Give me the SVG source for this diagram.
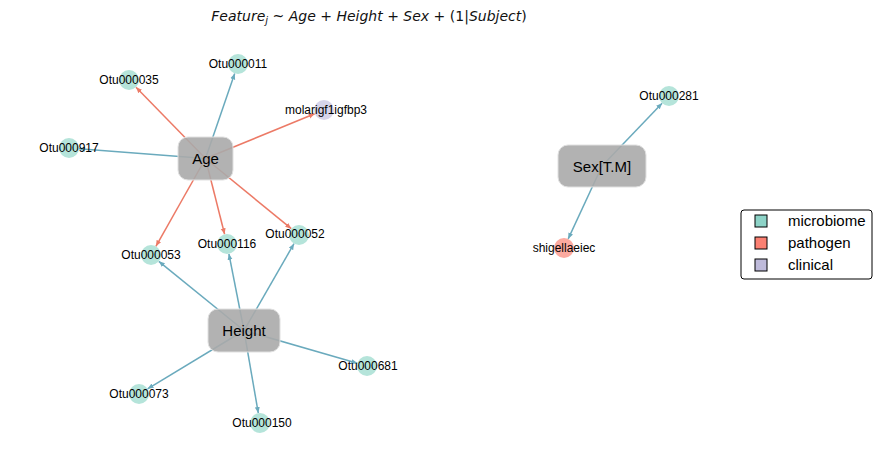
<svg xmlns="http://www.w3.org/2000/svg" width="879" height="469" viewBox="0 0 879 469">
<style>
.eb{stroke:#6aaabd;stroke-width:1.5;fill:none;marker-end:url(#ab)}
.er{stroke:#ec7a66;stroke-width:1.5;fill:none;marker-end:url(#ar)}
.box{fill:#aaaaaa;fill-opacity:0.9;stroke:#e0e0e0;stroke-width:1}
.bt{font-family:"Liberation Sans",Arial,sans-serif;font-size:15px;fill:#000;text-anchor:middle}
.nl{font-family:"Liberation Sans",Arial,sans-serif;font-size:12px;fill:#000;text-anchor:middle}
.mic{fill:#b5e4da}
.pat{fill:#fcaaa0}
.cli{fill:#d6d4e9}
.lt{font-family:"Liberation Sans",Arial,sans-serif;font-size:15px;fill:#000}
.title{font-family:"DejaVu Sans",sans-serif;font-size:14px;fill:#111}
</style>
<defs>
<marker id="ab" markerUnits="userSpaceOnUse" markerWidth="6" markerHeight="6" refX="6" refY="3" orient="auto"><path d="M0,0.5 L6,3 L0,5.5 z" fill="#6aaabd"/></marker>
<marker id="ar" markerUnits="userSpaceOnUse" markerWidth="6" markerHeight="6" refX="6" refY="3" orient="auto"><path d="M0,0.5 L6,3 L0,5.5 z" fill="#ec7a66"/></marker>
</defs>
<rect width="879" height="469" fill="#fff"/>
<text class="title" x="369" y="21" text-anchor="middle"><tspan font-style="italic">Feature</tspan><tspan font-style="italic" font-size="10" dy="3">j</tspan><tspan dy="-3"> ~ </tspan><tspan font-style="italic">Age</tspan> + <tspan font-style="italic">Height</tspan> + <tspan font-style="italic">Sex</tspan> + (1|<tspan font-style="italic">Subject</tspan>)</text>
<g id="connectors">
<line class="er" x1="205.5" y1="158.5" x2="136" y2="87.2"/>
<line class="eb" x1="205.5" y1="158.5" x2="234.7" y2="73.5"/>
<line class="er" x1="205.5" y1="158.5" x2="314.7" y2="113.8"/>
<line class="eb" x1="205.5" y1="158.5" x2="79" y2="148.8"/>
<line class="er" x1="205.5" y1="158.5" x2="155.9" y2="246.3"/>
<line class="er" x1="205.5" y1="158.5" x2="224.6" y2="234.3"/>
<line class="er" x1="205.5" y1="158.5" x2="291.3" y2="228.7"/>
<line class="eb" x1="244" y1="330.5" x2="158.8" y2="261.3"/>
<line class="eb" x1="244" y1="330.5" x2="228.9" y2="253.8"/>
<line class="eb" x1="244" y1="330.5" x2="294" y2="243.7"/>
<line class="eb" x1="244" y1="330.5" x2="357.4" y2="363.2"/>
<line class="eb" x1="244" y1="330.5" x2="147.6" y2="388.8"/>
<line class="eb" x1="244" y1="330.5" x2="258.3" y2="413.1"/>
<line class="eb" x1="602" y1="166" x2="662.1" y2="103.2"/>
<line class="eb" x1="602" y1="166" x2="568.2" y2="238.9"/>
</g>
<g id="Otu000035"><circle class="mic" cx="129" cy="80" r="10"/><text class="nl" x="129" y="84">Otu000035</text></g>
<g id="Otu000011"><circle class="mic" cx="238" cy="64" r="10"/><text class="nl" x="238" y="68">Otu000011</text></g>
<g id="molarigf1igfbp3"><circle class="cli" cx="324" cy="110" r="10"/><text class="nl" x="326" y="114">molarigf1igfbp3</text></g>
<g id="Otu000917"><circle class="mic" cx="69" cy="148" r="10"/><text class="nl" x="69" y="152">Otu000917</text></g>
<g id="Otu000053"><circle class="mic" cx="151" cy="255" r="10"/><text class="nl" x="151" y="259">Otu000053</text></g>
<g id="Otu000116"><circle class="mic" cx="227" cy="244" r="10"/><text class="nl" x="227" y="248">Otu000116</text></g>
<g id="Otu000052"><circle class="mic" cx="299" cy="235" r="10"/><text class="nl" x="295" y="238">Otu000052</text></g>
<g id="Otu000681"><circle class="mic" cx="367" cy="366" r="10"/><text class="nl" x="368" y="370">Otu000681</text></g>
<g id="Otu000073"><circle class="mic" cx="139" cy="394" r="10"/><text class="nl" x="139" y="398">Otu000073</text></g>
<g id="Otu000150"><circle class="mic" cx="260" cy="423" r="10"/><text class="nl" x="262" y="427">Otu000150</text></g>
<g id="Otu000281"><circle class="mic" cx="669" cy="96" r="10"/><text class="nl" x="669" y="100">Otu000281</text></g>
<g id="shigellaeiec"><circle class="pat" cx="564" cy="248" r="10"/><text class="nl" x="564" y="252">shigellaeiec</text></g>
<g id="Age"><rect class="box" x="178" y="137" width="55" height="43" rx="10"/><text class="bt" x="205.5" y="164">Age</text></g>
<g id="Height"><rect class="box" x="208" y="309" width="72" height="43" rx="10"/><text class="bt" x="244" y="336">Height</text></g>
<g id="SexTM"><rect class="box" x="558" y="145" width="88" height="42" rx="10"/><text class="bt" x="602" y="171.5">Sex[T.M]</text></g>
<g id="legend">
<rect x="741" y="210" width="131" height="69" rx="3" fill="#fff" stroke="#000" stroke-width="1"/>
<rect x="755" y="215" width="12" height="12" fill="#8dd3c7" stroke="#000" stroke-width="1"/>
<rect x="755" y="237" width="12" height="12" fill="#fb8072" stroke="#000" stroke-width="1"/>
<rect x="755" y="259" width="12" height="12" fill="#bebada" stroke="#000" stroke-width="1"/>
<text class="lt" x="788" y="226">microbiome</text>
<text class="lt" x="788" y="248">pathogen</text>
<text class="lt" x="788" y="270">clinical</text>
</g>
</svg>
